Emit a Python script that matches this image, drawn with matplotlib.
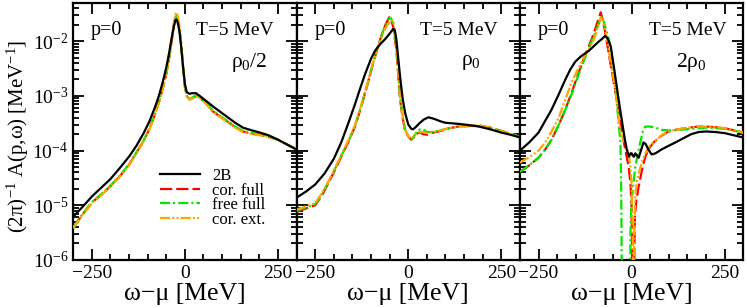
import matplotlib
matplotlib.use('Agg')
import matplotlib.pyplot as plt
from matplotlib.ticker import LogLocator, MultipleLocator, LogFormatterMathtext, NullFormatter
import numpy as np

plt.rcParams['font.family'] = ['Liberation Serif', 'DejaVu Serif']
plt.rcParams['mathtext.fontset'] = 'custom'
plt.rcParams['mathtext.rm'] = 'Liberation Serif'
plt.rcParams['mathtext.it'] = 'Liberation Serif:italic'

# log10 of (2pi)^-1 A(p=0, w); w-mu in MeV
# panel 1: rho0/2
x1 = [-300, -275, -250, -225, -200, -175, -150, -130, -110, -95, -80, -70, -60, -50, -42, -36, -30, -26, -23, -20,
      -15, -10, -5, 0, 5, 12, 20, 30, 40, 55, 75, 95, 115, 135, 156, 180, 202, 225, 250, 275, 300]
y1_2b = [-5.21, -5.03, -4.84, -4.68, -4.52, -4.32, -4.11, -3.91, -3.67, -3.46, -3.20, -3.00, -2.76, -2.48, -2.20, -1.96, -1.74, -1.63, -1.60, -1.64,
         -1.80, -2.10, -2.46, -2.78, -2.93, -2.96, -2.95, -2.95, -3.00, -3.08, -3.19, -3.29, -3.39, -3.49, -3.58, -3.63, -3.67, -3.72, -3.80, -3.89, -3.98]
y1_cf = [-5.41, -5.17, -4.95, -4.81, -4.65, -4.47, -4.26, -4.04, -3.81, -3.60, -3.33, -3.12, -2.88, -2.60, -2.30, -2.02, -1.72, -1.56, -1.52, -1.57,
         -1.73, -2.05, -2.46, -2.82, -3.00, -3.06, -3.04, -3.00, -3.03, -3.12, -3.28, -3.38, -3.47, -3.57, -3.65, -3.69, -3.71, -3.75, -3.80, -3.89, -3.98]
y1_ff = [-5.40, -5.16, -4.94, -4.80, -4.64, -4.46, -4.25, -4.03, -3.80, -3.59, -3.32, -3.11, -2.87, -2.59, -2.29, -2.01, -1.73, -1.58, -1.54, -1.58,
         -1.74, -2.06, -2.47, -2.83, -3.00, -3.05, -3.03, -2.99, -3.02, -3.11, -3.27, -3.37, -3.46, -3.56, -3.64, -3.68, -3.70, -3.74, -3.80, -3.89, -3.98]
y1_ce = [-5.42, -5.18, -4.96, -4.82, -4.66, -4.48, -4.27, -4.05, -3.82, -3.61, -3.34, -3.13, -2.88, -2.59, -2.28, -1.98, -1.68, -1.51, -1.47, -1.52,
         -1.70, -2.03, -2.45, -2.82, -3.01, -3.07, -3.05, -3.01, -3.04, -3.13, -3.29, -3.39, -3.48, -3.58, -3.66, -3.70, -3.72, -3.75, -3.80, -3.89, -3.98]

# panel 2: rho0
x2_2b = [-300, -275, -250, -225, -200, -180, -160, -143, -130, -116, -100, -89, -75, -62, -50, -40, -36, -32, -27, -22,
         -15, -8, 0, 8, 13, 20, 30, 42, 54, 70, 85, 99, 134, 160, 190, 220, 250, 275, 300]
y2_2b = [-4.86, -4.75, -4.62, -4.42, -4.15, -3.85, -3.48, -3.15, -2.88, -2.60, -2.32, -2.17, -2.05, -1.96, -1.86, -1.77, -1.80, -1.96, -2.30, -2.64,
         -3.05, -3.32, -3.52, -3.60, -3.61, -3.57, -3.50, -3.43, -3.39, -3.42, -3.46, -3.49, -3.51, -3.53, -3.56, -3.61, -3.67, -3.71, -3.76]
x2 = [-300, -275, -250, -230, -215, -200, -180, -160, -143, -125, -108, -95, -81, -70, -60, -51, -46, -40, -32, -27,
      -22, -15, -9, 0, 8, 15, 25, 32, 40, 50, 60, 81, 110, 134, 160, 190, 220, 250, 275, 300]
y2_cf = [-5.12, -5.06, -5.00, -4.80, -4.60, -4.40, -4.11, -3.83, -3.56, -3.17, -2.75, -2.42, -2.09, -1.86, -1.68, -1.56, -1.60, -1.75, -2.15, -2.60,
         -3.06, -3.40, -3.61, -3.74, -3.80, -3.76, -3.68, -3.67, -3.70, -3.71, -3.68, -3.65, -3.59, -3.56, -3.55, -3.54, -3.58, -3.64, -3.69, -3.75]
y2_ff = [-5.10, -5.04, -4.98, -4.78, -4.58, -4.38, -4.10, -3.82, -3.55, -3.16, -2.74, -2.41, -2.08, -1.86, -1.68, -1.58, -1.58, -1.68, -2.10, -2.55,
         -3.02, -3.38, -3.60, -3.74, -3.80, -3.74, -3.64, -3.61, -3.61, -3.66, -3.66, -3.64, -3.59, -3.56, -3.55, -3.55, -3.58, -3.64, -3.69, -3.75]
y2_ce = [-5.08, -5.02, -4.96, -4.76, -4.57, -4.37, -4.08, -3.80, -3.53, -3.14, -2.73, -2.40, -2.10, -1.90, -1.74, -1.66, -1.62, -1.62, -2.05, -2.50,
         -3.00, -3.37, -3.60, -3.73, -3.78, -3.74, -3.66, -3.66, -3.66, -3.68, -3.67, -3.64, -3.59, -3.56, -3.55, -3.54, -3.58, -3.64, -3.69, -3.75]

# panel 3: 2 rho0
x3_2b = [-300, -275, -250, -230, -215, -195, -178, -165, -151, -135, -116, -100, -89, -80, -71, -64, -56, -48, -40, -35,
         -25, -18, -13, -7, -3, 0, 3, 6, 10, 14, 19, 25, 32, 38, 45, 54, 64, 80, 100, 118, 140, 160, 180, 199, 225, 250, 275, 300]
y3_2b = [-4.00, -3.85, -3.67, -3.43, -3.25, -2.96, -2.70, -2.52, -2.37, -2.27, -2.18, -2.08, -2.01, -1.96, -1.90, -1.95, -2.09, -2.45, -2.82, -3.06,
         -3.50, -3.80, -3.98, -4.11, -4.05, -4.05, -4.09, -4.11, -4.05, -4.09, -4.13, -4.00, -3.85, -3.88, -3.98, -4.07, -4.05, -3.98, -3.91, -3.85, -3.77, -3.70, -3.66, -3.65, -3.66, -3.68, -3.72, -3.76]
x3_cf = [-300, -275, -250, -232, -215, -195, -178, -160, -142, -125, -107, -95, -83, -77, -71, -57, -43, -32, -22, -15,
         -8, -3, 0, 3, 6, 9, 13, 19, 28, 37, 47, 59, 80, 99, 125, 153, 180, 200, 220, 242, 270, 300]
y3_cf = [-4.39, -4.27, -4.13, -3.98, -3.80, -3.52, -3.25, -2.92, -2.57, -2.26, -1.96, -1.72, -1.47, -1.62, -1.83, -2.40, -2.94, -3.40, -3.80, -4.05,
         -4.29, -4.60, -5.00, -7.00, -6.50, -5.20, -4.90, -4.66, -4.35, -4.11, -3.96, -3.85, -3.73, -3.65, -3.61, -3.58, -3.56, -3.56, -3.57, -3.58, -3.62, -3.67]
x3_ff = [-300, -275, -250, -232, -215, -195, -178, -160, -142, -125, -107, -93, -80, -72, -60, -50, -43, -36, -30, -28,
         -27, -25, -5, -3, 0, 5, 10, 20, 30, 37, 50, 65, 80, 100, 130, 165, 200, 250, 300]
y3_ff = [-4.39, -4.27, -4.13, -3.98, -3.80, -3.52, -3.25, -2.95, -2.60, -2.30, -2.00, -1.76, -1.54, -1.70, -2.00, -2.45, -2.90, -3.40, -3.85, -4.60,
         -5.50, -8.00, -8.00, -5.50, -4.90, -4.60, -4.30, -3.95, -3.65, -3.56, -3.56, -3.58, -3.62, -3.63, -3.62, -3.60, -3.58, -3.60, -3.67]
x3_ce = [-300, -275, -250, -232, -215, -196, -180, -161, -142, -124, -110, -100, -90, -83, -77, -70, -57, -43, -36, -30,
         -22, -15, -8, -3, 0, 3, 5, 8, 10, 15, 20, 28, 37, 47, 59, 80, 99, 125, 153, 180, 200, 242, 270, 300]
y3_ce = [-4.22, -4.12, -4.00, -3.85, -3.65, -3.40, -3.10, -2.75, -2.48, -2.24, -2.08, -1.95, -1.72, -1.56, -1.62, -1.80, -2.35, -2.90, -3.35, -3.67,
         -3.80, -3.90, -4.05, -4.30, -4.60, -5.50, -6.50, -5.40, -4.80, -4.55, -4.40, -4.20, -4.05, -3.93, -3.85, -3.72, -3.65, -3.61, -3.58, -3.56, -3.56, -3.58, -3.62, -3.67]

labels = ['2B', 'cor. full', 'free full', 'cor. ext.']
dens = [r'$\mathregular{\rho_0/2}$', r'$\mathregular{\rho_0}$', r'$\mathregular{2\rho_0}$']
t_pos = [0.723, 0.728, 0.75]
rho_pos = [0.79, 0.78, 0.768]

panels = [
    [(x1, y1_2b), (x1, y1_cf), (x1, y1_ff), (x1, y1_ce)],
    [(x2_2b, y2_2b), (x2, y2_cf), (x2, y2_ff), (x2, y2_ce)],
    [(x3_2b, y3_2b), (x3_cf, y3_cf), (x3_ff, y3_ff), (x3_ce, y3_ce)],
]
styles = [
    dict(color='black', ls='-'),
    dict(color='#ff0000', ls=(0, (5.5, 1.8))),
    dict(color='#00e600', ls=(0, (4.5, 1.4, 0.9, 1.4))),
    dict(color='#ffa500', ls=(0, (4.5, 1.0, 0.9, 1.0, 0.9, 1.0))),
]

fig, axes = plt.subplots(1, 3, figsize=(7.47, 3.08), dpi=100, sharey=True)
fig.subplots_adjust(left=0.098, right=0.995, top=0.99, bottom=0.156, wspace=0)

for i, ax in enumerate(axes):
    for j in range(4):
        xs, ys = panels[i][j]
        ax.plot(xs, 10.0 ** np.array(ys), lw=1.6, label=labels[j], zorder=3 if j else 4, **styles[j])
    ax.set_yscale('log')
    ax.set_xlim(-300, 300)
    ax.set_ylim(1e-6, 5e-2)
    ax.xaxis.set_major_locator(MultipleLocator(250))
    ax.xaxis.set_minor_locator(MultipleLocator(50))
    ax.yaxis.set_major_locator(LogLocator(base=10))
    ax.yaxis.set_minor_locator(LogLocator(base=10, subs=np.arange(2, 10)))
    ax.yaxis.set_major_formatter(LogFormatterMathtext())
    ax.yaxis.set_minor_formatter(NullFormatter())
    ax.tick_params(which='both', direction='in', top=True, right=True, labelsize=14, width=1.3)
    ax.tick_params(which='major', length=8)
    ax.tick_params(which='minor', length=4)
    for s in ax.spines.values():
        s.set_linewidth(1.6)
    ax.set_xlabel('ω−μ [MeV]', fontsize=18.5, labelpad=1)
    ax.text(0.08, 0.895, 'p=0', transform=ax.transAxes, fontsize=14.5, va='center')
    ax.text(t_pos[i], 0.895, 'T=5 MeV', transform=ax.transAxes, fontsize=14, va='center', ha='center')
    ax.text(rho_pos[i], 0.77, dens[i], transform=ax.transAxes, fontsize=15.5, va='center', ha='center')

axes[0].set_ylabel(r'$\mathregular{(2\pi)^{-1}}$ A(p,ω) [MeV$\mathregular{^{-1}}$]', fontsize=15)
axes[0].yaxis.set_label_coords(-0.19, 0.48)
axes[0].legend(loc='lower left', bbox_to_anchor=(0.39, 0.125), frameon=False, fontsize=12,
               handlelength=2.4, labelspacing=-0.08, borderpad=0.0, borderaxespad=0.0, handletextpad=0.7)

plt.savefig('out.png', dpi=100)
